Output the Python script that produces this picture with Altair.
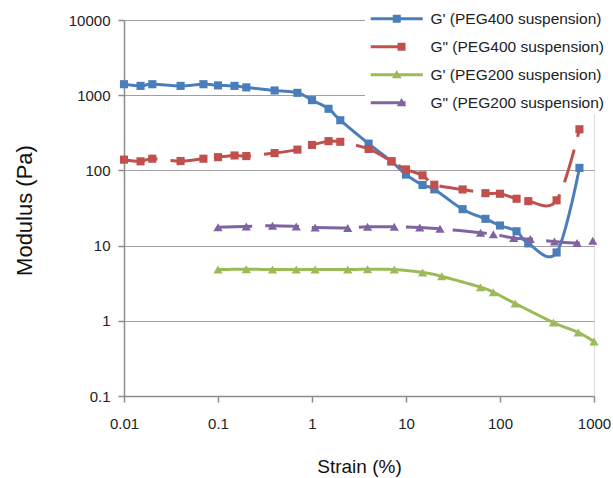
import altair as alt
import pandas as pd

SERIES = ["G' (PEG400 suspension)", 'G" (PEG400 suspension)',
          "G' (PEG200 suspension)", 'G" (PEG200 suspension)']
COLORS = ["#4A7EBB", "#C0504D", "#9BBB59", "#8064A2"]

STRAIN_400 = [0.01, 0.015, 0.02, 0.04, 0.07, 0.1, 0.15, 0.2, 0.4, 0.7, 1, 1.5, 2,
              4, 7, 10, 15, 20, 40, 70, 100, 150, 200, 400, 700]
GP_400 = [1400, 1330, 1400, 1330, 1400, 1350, 1330, 1270, 1155, 1075, 860, 660, 465,
          227, 132, 88, 64, 56, 30.5, 22.7, 18.5, 15.5, 10.7, 8.1, 108]
GPP_400 = [139, 132, 143, 133, 143, 150, 158, 155, 170, 189, 218, 245, 240,
           193, 132, 103, 86, 64.5, 55.8, 49.8, 48.9, 42, 39, 40, 352]

STRAIN_200_GP = [0.1, 0.2, 0.38, 0.68, 1.08, 2.4, 3.9, 7.5, 15, 24, 62, 85, 145,
                 370, 680, 1000]
GP_200 = [4.8, 4.85, 4.8, 4.8, 4.8, 4.8, 4.85, 4.8, 4.4, 3.9, 2.8, 2.4, 1.7,
          0.95, 0.70, 0.53]

STRAIN_200_GPP = [0.1, 0.2, 0.38, 0.68, 1.08, 2.4, 3.9, 7.5, 14, 23, 62, 85, 140,
                  210, 380, 660, 970]
GPP_200 = [17.6, 18.0, 18.4, 18.0, 17.4, 17.2, 17.8, 17.8, 17.4, 16.8, 14.8, 14.2,
           12.6, 12.2, 11.3, 10.8, 11.6]

X_TICKS = [0.01, 0.1, 1, 10, 100, 1000]
Y_TICKS = [0.1, 1, 10, 100, 1000, 10000]

LEGEND_SYMBOLS = [
    "M-6.5,-0.4H6.5V0.4H-6.5Z M-1,-1H1V1H-1Z",
    "M-6.5,-0.4H2.2V0.4H-6.5Z M0.2,-1H2.2V1H0.2Z",
    "M-6.5,-0.4H6.5V0.4H-6.5Z M-1.2,0.9L0,-1.2L1.2,0.9Z",
    "M-6.5,-0.4H2.2V0.4H-6.5Z M0,0.9L1.2,-1.2L2.4,0.9Z",
]

rows = []
for name, xs, ys in [(SERIES[0], STRAIN_400, GP_400), (SERIES[1], STRAIN_400, GPP_400),
                     (SERIES[2], STRAIN_200_GP, GP_200), (SERIES[3], STRAIN_200_GPP, GPP_200)]:
    for x, y in zip(xs, ys):
        rows.append({"series": name, "strain": x, "modulus": y})
df = pd.DataFrame(rows)

FONT = "Liberation Sans"

x_enc = alt.X("strain:Q",
              scale=alt.Scale(type="log", domain=[0.01, 1000], nice=False),
              axis=alt.Axis(values=X_TICKS, format="~g", grid=False,
                            domainColor="#8c8c8c", domainWidth=1.5,
                            tickColor="#8c8c8c", tickWidth=1.5, tickSize=6,
                            labelFont=FONT, labelFontSize=15, labelColor="#222222",
                            labelPadding=14, labelFlush=False,
                            title="Strain (%)", titleFont=FONT, titleFontSize=19,
                            titleFontWeight="normal", titleColor="#111111",
                            titleX=235, titleY=70, titleBaseline="middle",
                            titleAlign="center"))
y_enc = alt.Y("modulus:Q",
              scale=alt.Scale(type="log", domain=[0.1, 10000], nice=False),
              axis=alt.Axis(values=Y_TICKS, format="~g", grid=True,
                            gridColor="#a0a0a0", gridWidth=1.2,
                            domainColor="#8c8c8c", domainWidth=1.5,
                            tickColor="#8c8c8c", tickWidth=1.5, tickSize=6,
                            labelFont=FONT, labelFontSize=15, labelColor="#222222",
                            labelPadding=8, labelFlush=False,
                            title="Modulus (Pa)", titleFont=FONT, titleFontSize=22,
                            titleFontWeight="normal", titleColor="#111111",
                            titleX=-100, titleY=190, titleBaseline="middle",
                            titleAlign="center"))

color_scale = alt.Scale(domain=SERIES, range=COLORS)
color_enc = alt.Color("series:N", scale=color_scale)

base = alt.Chart(df)

lines = base.mark_line(strokeWidth=3, interpolate="cardinal").encode(
    x=x_enc, y=y_enc,
    color=color_enc,
    strokeDash=alt.StrokeDash("series:N",
                              scale=alt.Scale(domain=SERIES,
                                              range=[[1, 0], [34, 13], [1, 0], [34, 13]]),
                              legend=None),
    detail="series:N",
)

squares = base.transform_filter(
    alt.FieldOneOfPredicate(field="series", oneOf=SERIES[:2])
).mark_point(filled=True, shape="square", size=66, opacity=1).encode(
    x="strain:Q", y="modulus:Q", color=color_enc,
)

triangles = base.transform_filter(
    alt.FieldOneOfPredicate(field="series", oneOf=SERIES[2:])
).mark_point(filled=True, shape="triangle-up", size=85, opacity=1).encode(
    x="strain:Q", y="modulus:Q", color=color_enc,
)

legend_props = dict(orient="none", legendX=241, legendY=-11,
                    title=None, labelFont=FONT, labelFontSize=15.5,
                    labelColor="#222222", symbolSize=64,
                    symbolStrokeWidth=0, symbolOffset=22,
                    labelOffset=26, rowPadding=11,
                    fillColor="white", padding=2,
                    labelLimit=300)

legend_layer = base.transform_filter("datum.modulus < 0").mark_point(
    filled=True, opacity=1
).encode(
    x="strain:Q", y="modulus:Q",
    color=alt.Color("series:N", scale=color_scale, legend=alt.Legend(**legend_props)),
    shape=alt.Shape("series:N", scale=alt.Scale(domain=SERIES, range=LEGEND_SYMBOLS),
                    legend=alt.Legend(**legend_props)),
)

chart = alt.layer(lines, squares, triangles, legend_layer).properties(
    width=470, height=376,
    autosize=alt.AutoSizeParams(type="none"),
    padding={"left": 124, "top": 20, "right": 19, "bottom": 82},
).configure_view(stroke=None).configure(background="white")

chart.save("out.html", embed_options={"renderer": "svg", "actions": False})
